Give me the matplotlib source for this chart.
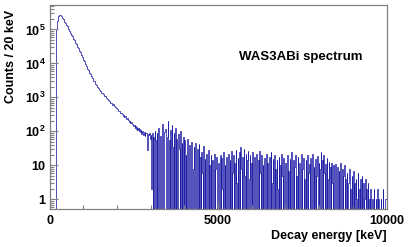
import numpy as np
import matplotlib
matplotlib.use("Agg")
import matplotlib.pyplot as plt
from matplotlib.ticker import FixedLocator, FuncFormatter

plt.rcParams['font.family'] = ['Liberation Sans', 'DejaVu Sans']
plt.rcParams['font.weight'] = 'bold'
plt.rcParams['mathtext.fontset'] = 'custom'
plt.rcParams['mathtext.rm'] = 'Liberation Sans:bold'
plt.rcParams['mathtext.bf'] = 'Liberation Sans:bold'

# counts per 20 keV bin, 0 - 10000 keV (500 bins)
peak_counts = [
    0, 0, 0, 0, 0, 0, 0, 0, 0, 40000, 105000, 180000, 230000, 255000, 265000, 268000, 263000, 245000, 229000, 214000,
    200000, 184000, 170000, 157000, 145000, 133000, 122000, 111000, 101000, 92300, 84100, 76700, 70000, 63800, 58200, 53100, 48400, 44200, 40300, 36700,
    33500, 30500, 27900, 25400, 23200, 21100, 19100, 17300, 15600, 14100, 12700, 11500, 10400, 9400, 8490, 7670, 7010, 6410, 5860, 5360,
]
falloff_counts = [
    4900, 4460, 4120, 3720, 3440, 3110, 2940, 2700, 2560, 2350, 2230, 2050, 1950, 1780, 1700, 1550, 1500, 1380, 1350, 1240,
    1200, 1110, 1070, 1000, 960, 890, 880, 830, 770, 760, 700, 690, 660, 610, 620, 560, 550, 530, 480, 480,
    445, 440, 400, 410, 370, 355, 350, 320, 325, 290, 300, 265, 280, 250, 235, 240, 210, 220, 195, 200,
    175, 185, 160, 170, 145, 155, 130, 145, 120, 135, 110, 125, 100, 115, 95, 108, 85, 100, 90, 80,
    95, 75, 88, 92, 70, 28,
]
tail_counts = [
    85, 78, 92, 60, 80, 2, 88, 0, 70, 0, 105, 55, 0, 90,
    0, 130, 40, 0, 75, 0, 0, 160, 45, 0, 95, 120, 0, 0, 70, 200, 0, 55, 0, 110,
    0, 150, 35, 0, 90, 0, 125, 0, 60, 0, 0, 85, 30, 0, 100, 0, 45, 0, 70, 0,
    55, 0, 20, 0, 60, 15, 0, 40, 0, 0, 50, 25, 0, 8, 35, 0, 45, 0, 12, 30,
    0, 42, 0, 18, 0, 25, 6, 0, 38, 0, 15, 0, 22, 4, 0, 28, 0, 10, 0, 20,
    0, 14, 3, 0, 22, 0, 8, 18, 0, 0, 12, 5, 0, 20, 0, 16, 2, 0, 24, 0,
    10, 0, 18, 0, 4, 22, 0, 14, 0, 26, 0, 6, 20, 0, 12, 0, 28, 3, 0, 16,
    0, 24, 0, 35, 8, 0, 18, 0, 30, 5, 0, 22, 0, 14, 26, 0, 4, 20, 0, 12,
    0, 25, 0, 8, 18, 0, 3, 22, 0, 14, 0, 26, 6, 0, 20, 0, 10, 0, 16, 4,
    0, 22, 0, 12, 0, 6, 18, 0, 24, 0, 3, 15, 0, 20, 0, 8, 0, 14, 2, 0,
    18, 0, 10, 0, 22, 5, 0, 16, 0, 4, 12, 0, 20, 0, 7, 0, 15, 0, 24, 3,
    0, 14, 0, 9, 20, 0, 5, 0, 18, 0, 12, 3, 0, 22, 0, 8, 16, 0, 4, 0,
    14, 0, 20, 0, 6, 11, 0, 17, 0, 3, 22, 0, 9, 0, 15, 0, 5, 19, 0, 12,
    0, 8, 24, 0, 14, 0, 20, 6, 0, 11, 0, 16, 0, 4, 13, 0, 9, 0, 12, 3,
    0, 10, 0, 6, 11, 0, 3, 9, 0, 7, 0, 12, 2, 0, 8, 0, 5, 10, 0, 4,
    0, 6, 0, 3, 8, 0, 2, 0, 5, 0, 7, 0, 3, 0, 4, 1, 0, 6, 0, 2,
    0, 4, 0, 5, 0, 3, 0, 1, 4, 0, 2, 0, 3, 0, 1, 0, 2, 0, 0, 1,
    0, 2, 0, 0, 1, 0, 2, 0, 1, 0, 0, 1, 0, 0, 2, 0, 0, 0, 1, 1,
]

counts = np.array(peak_counts + falloff_counts + tail_counts, dtype=float)
edges = np.arange(0, 10001, 20)

fig = plt.figure(figsize=(4.15, 2.47), dpi=100)
ax = fig.add_axes([0.1195, 0.1526, 0.812, 0.828])

ax.stairs(counts, edges, color='#2020a6', lw=0.55)

ax.set_yscale('log')
ax.set_xlim(0, 10000)
ax.set_ylim(0.51, 5.3e5)

frame = '#808080'
for s in ax.spines.values():
    s.set_color(frame)
    s.set_linewidth(0.9)

ax.xaxis.set_major_locator(FixedLocator([0, 5000, 10000]))
ax.xaxis.set_minor_locator(FixedLocator(np.arange(0, 10001, 1000)))
ax.yaxis.set_major_locator(FixedLocator([1, 10, 1e2, 1e3, 1e4, 1e5]))
ax.yaxis.set_minor_locator(FixedLocator([m * 10.0**e for e in range(-1, 6) for m in range(2, 10)]))

def ylab(v, pos):
    if v < 5:
        return '1'
    if v < 50:
        return '10'
    return r'$10^{%d}$' % int(round(np.log10(v)))

ax.yaxis.set_major_formatter(FuncFormatter(ylab))
ax.tick_params(which='both', direction='in', color=frame, width=0.8,
               labelsize=9, top=False, right=False)
ax.tick_params(which='major', length=5.5, pad=3)
ax.tick_params(which='minor', length=3)
ax.tick_params(axis='x', pad=4)

ax.set_xlabel('Decay energy [keV]', fontsize=9, fontweight='bold', loc='right', labelpad=2)
ax.set_ylabel('Counts / 20 keV', fontsize=9, fontweight='bold', loc='top')
ax.yaxis.set_label_coords(-0.097, 0.975)

ax.text(0.562, 0.744, 'WAS3ABi spectrum', transform=ax.transAxes,
        fontsize=9.5, fontweight='bold', ha='left', va='center')

fig.savefig('out.png', dpi=100)
